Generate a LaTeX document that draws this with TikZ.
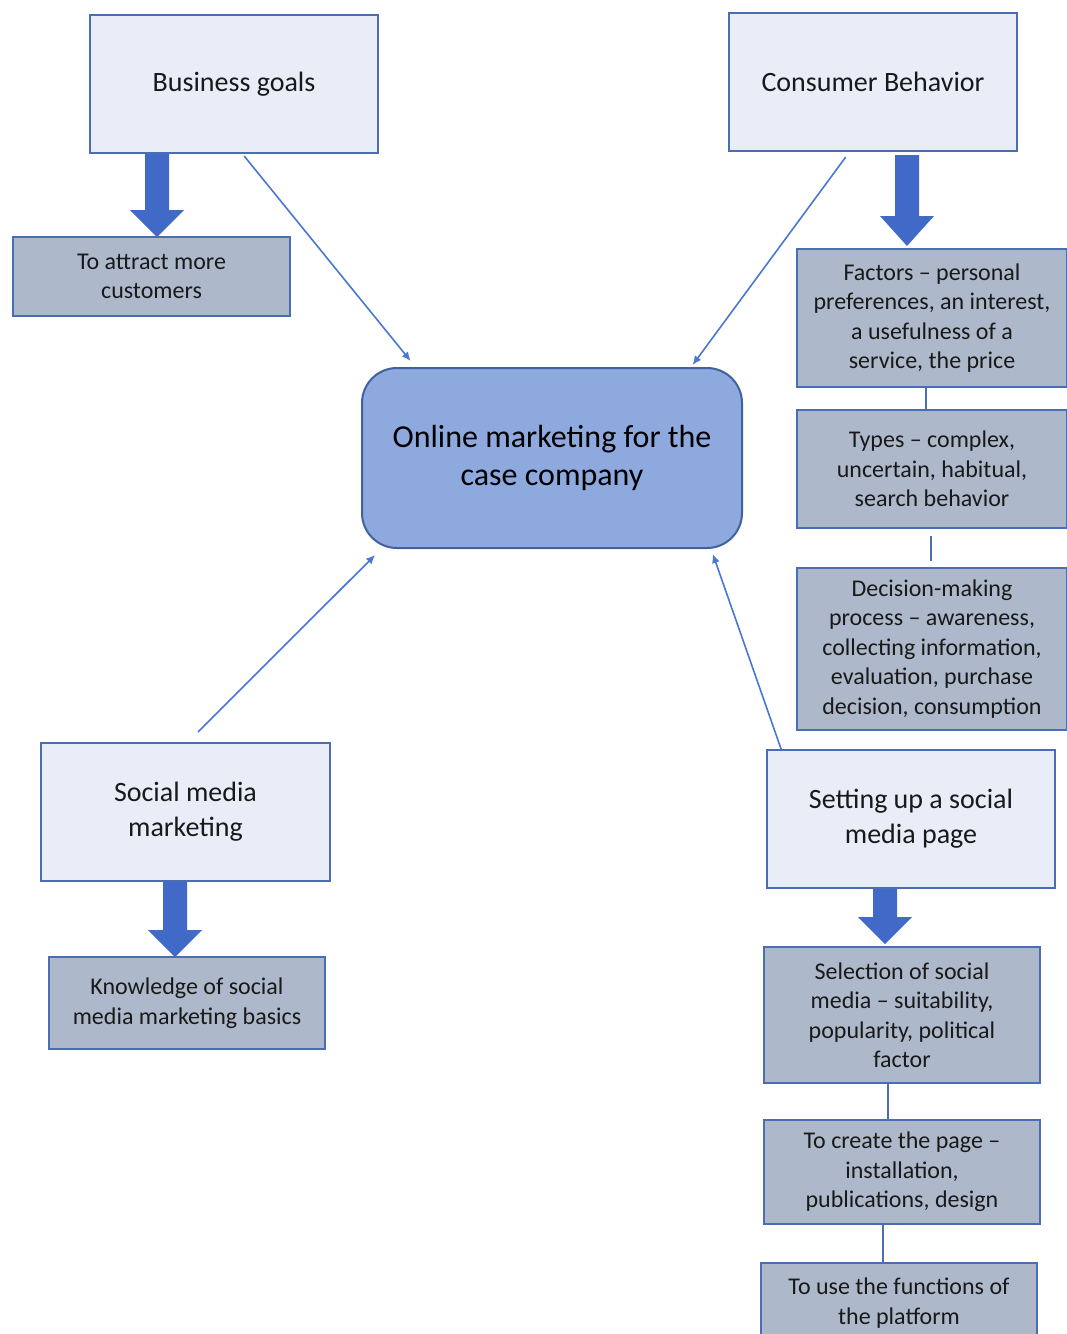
\documentclass[tikz,border=0pt]{standalone}
\usepackage{fontspec}
\setmainfont{Carlito}
\usetikzlibrary{arrows.meta,calc}
\definecolor{lightfill}{HTML}{E9EDF8}
\definecolor{darkfill}{HTML}{ADB9CA}
\definecolor{boxborder}{HTML}{4A6DB3}
\definecolor{centerfill}{HTML}{8EA9DE}
\definecolor{centerborder}{HTML}{41609E}
\definecolor{linkblue}{HTML}{4A78D0}
\definecolor{blockblue}{HTML}{4169C8}
\tikzset{
  mainbox/.style={draw=boxborder, line width=2pt, fill=lightfill, inner sep=0pt, align=center,
    font=\fontsize{28}{35}\selectfont, text=black!90},
  subbox/.style={draw=boxborder, line width=2pt, fill=darkfill, inner sep=0pt, align=center,
    font=\fontsize{24}{29.5}\selectfont, text=black!90},
  centerbox/.style={draw=centerborder, line width=2pt, fill=centerfill, rounded corners=35pt,
    inner sep=0pt, align=center, font=\fontsize{32}{38}\selectfont, text=black},
  thinlink/.style={draw=linkblue, line width=1.6pt, -{Latex[length=9pt,width=8pt]}},
  sublink/.style={draw=boxborder, line width=2pt},
  blockarrow/.style={fill=blockblue, draw=none}
}
\newcommand{\blkarrow}[4]{% x, ytop, yneck, ybot
  \path[blockarrow] (#1-12,#2) -- (#1+12,#2) -- (#1+12,#3) -- (#1+27,#3) -- (#1,#4)
    -- (#1-27,#3) -- (#1-12,#3) -- cycle;}
\begin{document}
\begin{tikzpicture}[x=1pt,y=-1pt]
\clip (0,0) rectangle (1067,1334);
\fill[white] (0,0) rectangle (1067,1334);

% main boxes
\node[mainbox, minimum width=288pt, minimum height=138pt] (bg) at (234,84) {Business goals};
\node[mainbox, minimum width=288pt, minimum height=138pt] (cb) at (873,82) {Consumer Behavior};
\node[mainbox, minimum width=289pt, minimum height=138pt] (smm) at (185.5,812) {Social media\\marketing};
\node[mainbox, minimum width=288pt, minimum height=138pt] (setup) at (911,819) {Setting up a social\\media page};

% center
\node[centerbox, minimum width=380pt, minimum height=180pt] (center) at (552,458) {Online marketing for the\\case company};

% sub boxes
\node[subbox, minimum width=277pt, minimum height=79pt] (attract) at (151.5,276.5) {To attract more\\customers};
\node[subbox, minimum width=270pt, minimum height=138pt] (factors) at (932,318) {Factors – personal\\preferences, an interest,\\a usefulness of a\\service, the price};
\node[subbox, minimum width=270pt, minimum height=118pt] (types) at (932,469) {Types – complex,\\uncertain, habitual,\\search behavior};
\node[subbox, minimum width=270pt, minimum height=162pt] (decision) at (932,649) {Decision-making\\process – awareness,\\collecting information,\\evaluation, purchase\\decision, consumption};
\node[subbox, minimum width=276pt, minimum height=92pt] (knowledge) at (187,1003) {Knowledge of social\\media marketing basics};
\node[subbox, minimum width=276pt, minimum height=136pt] (selection) at (902,1015) {Selection of social\\media – suitability,\\popularity, political\\factor};
\node[subbox, minimum width=276pt, minimum height=104pt] (create) at (902,1172) {To create the page –\\installation,\\publications, design};
\node[subbox, minimum width=276pt, minimum height=88pt, text depth=0pt] (use) at (899,1307) {};
\node[font=\fontsize{24}{29.5}\selectfont, align=center, inner sep=0pt, text=black!90] (usetext) at (899,1303) {To use the functions of\\the platform};

% sub links
\draw[sublink] (926,387) -- (926,410);
\draw[sublink] ($(types.south)+(-1,7)$) -- ($(decision.north)+(-1,-6)$);
\draw[sublink] (888,1083) -- (888,1120);
\draw[sublink] (883,1224) -- (883,1263);

% block arrows
\blkarrow{157}{154}{210}{237}
\blkarrow{907}{155}{216}{246}
\blkarrow{175}{882}{930}{957}
\blkarrow{885}{889}{917}{944}

% thin links to center
\draw[thinlink] ($(bg.south west)!0.535!(bg.south east)+(0,2)$) -- ($(center.north west)!0.13!(center.north east)+(0,-6)$);
\draw[thinlink] ($(cb.south west)!0.406!(cb.south east)+(0,5)$) -- ($(center.north west)!0.868!(center.north east)+(0,-2)$);
\draw[thinlink] ($(smm.north west)!0.543!(smm.north east)+(0,-10)$) -- ($(center.south west)!0.037!(center.south east)+(0,6)$);
\draw[thinlink] ($(setup.north west)!0.052!(setup.north east)+(0,0)$) -- ($(center.south west)!0.921!(center.south east)+(0,5)$);
\end{tikzpicture}
\end{document}
